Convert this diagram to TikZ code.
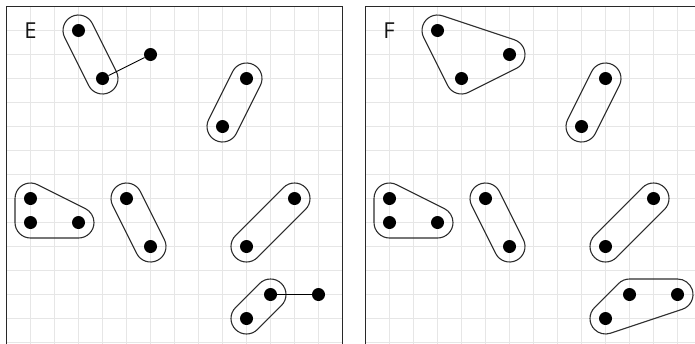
\documentclass[tikz,border=0pt]{standalone}
\usepackage{fontspec}
\setsansfont{Open Sans}
\usetikzlibrary{calc}
\definecolor{gridc}{RGB}{230,230,230}
\definecolor{framec}{RGB}{40,40,40}
\definecolor{hullc}{RGB}{45,45,45}
\definecolor{labelc}{RGB}{20,20,20}
\newcommand\hullr{15.5pt}
\tikzset{
 gridline/.style={draw=gridc, line width=1pt},
 frame/.style={draw=framec, line width=1.4pt},
 dot/.style={circle, fill=black, inner sep=0pt, minimum size=13pt},
 link/.style={draw=black, line width=0.9pt},
 hull/.style={draw=hullc, line width=1.1pt},
 panellabel/.style={font=\sffamily\fontsize{22}{22}\selectfont, text=labelc, inner sep=0pt},
}
\newcommand\caphull[2]{%
 \draw[hull] let \p1=(#1),\p2=(#2),\n1={atan2(\y2-\y1,\x2-\x1)} in
  ($(\p1)+(\n1-90:\hullr)$) -- ($(\p2)+(\n1-90:\hullr)$)
  arc[start angle=\n1-90, delta angle=180, radius=\hullr]
  -- ($(\p1)+(\n1+90:\hullr)$)
  arc[start angle=\n1+90, delta angle=180, radius=\hullr] -- cycle;}
\newcommand\trihull[3]{%
 \draw[hull] let \p1=(#1),\p2=(#2),\p3=(#3),
   \n1={atan2(\y2-\y1,\x2-\x1)}, \n2={atan2(\y3-\y2,\x3-\x2)}, \n3={atan2(\y1-\y3,\x1-\x3)},
   \n4={mod(\n2-\n1+720,360)}, \n5={mod(\n3-\n2+720,360)}, \n6={mod(\n1-\n3+720,360)} in
   ($(\p1)+(\n1-90:\hullr)$) -- ($(\p2)+(\n1-90:\hullr)$)
   arc[start angle=\n1-90, delta angle=\n4, radius=\hullr]
   -- ($(\p3)+(\n2-90:\hullr)$)
   arc[start angle=\n2-90, delta angle=\n5, radius=\hullr]
   -- ($(\p1)+(\n3-90:\hullr)$)
   arc[start angle=\n3-90, delta angle=\n6, radius=\hullr] -- cycle;}
\begin{document}
\begin{tikzpicture}[x=24pt,y=-24pt]
\useasboundingbox (0pt,0pt) rectangle (695pt,-343pt);
\clip (0pt,0pt) rectangle (695pt,-343pt);
\coordinate (OE) at (6.5pt,-6.5pt);
\coordinate (OF) at (365.5pt,-6.5pt);
% grids and frames
\foreach \o in {OE,OF}{
  \foreach \i in {1,...,13} \draw[gridline] ($(\o)+(\i,0)$) -- ($(\o)+(\i,15)$);
  \foreach \j in {1,...,14} \draw[gridline] ($(\o)+(0,\j)$) -- ($(\o)+(14,\j)$);
  \draw[frame] ($(\o)+(0,15)$) -- (\o) -- ($(\o)+(14,0)$) -- ($(\o)+(14,15)$);
}
% dot positions
\foreach \n/\i/\j in {1/3/1,2/4/3,3/6/2,4/10/3,5/9/5,6/1/8,7/1/9,8/3/9,9/5/8,10/6/10,11/12/8,12/10/10,13/11/12,14/10/13,15/13/12}{
  \coordinate (ce\n) at ($(OE)+(\i,\j)$);
  \coordinate (cf\n) at ($(OF)+(\i,\j)$);
}
% panel E hulls
\caphull{ce1}{ce2}
\caphull{ce4}{ce5}
\trihull{ce6}{ce7}{ce8}
\caphull{ce9}{ce10}
\caphull{ce11}{ce12}
\caphull{ce13}{ce14}
% panel F hulls
\trihull{cf1}{cf2}{cf3}
\caphull{cf4}{cf5}
\trihull{cf6}{cf7}{cf8}
\caphull{cf9}{cf10}
\caphull{cf11}{cf12}
\trihull{cf14}{cf15}{cf13}
\foreach \n in {1,...,15}{
  \node[dot] (e\n) at (ce\n) {};
  \node[dot] (f\n) at (cf\n) {};
}
\draw[link] (e2) -- (e3);
\draw[link] (e13) -- (e15);
\node[panellabel] (labE) at ($(OE)+(1,1)$) {E};
\node[panellabel] (labF) at ($(OF)+(0.98,1)$) {F};
\end{tikzpicture}
\end{document}
